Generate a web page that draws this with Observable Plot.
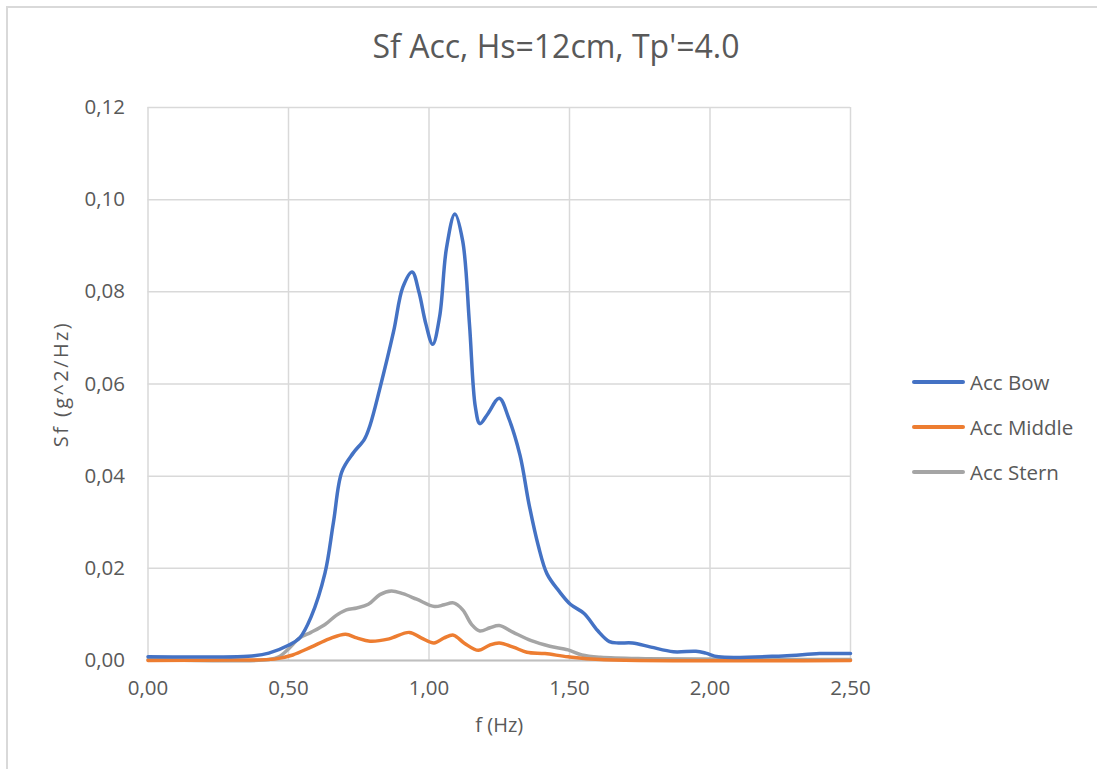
<!DOCTYPE html>
<html>
<head>
<meta charset="utf-8">
<script src="https://cdn.jsdelivr.net/npm/d3@7"></script>
<script src="https://cdn.jsdelivr.net/npm/@observablehq/plot@0.6"></script>
<style>
  html, body { margin: 0; padding: 0; background: #fff; overflow: hidden; }
  #chart { position: relative; width: 1097px; height: 769px; overflow: hidden; font-family: "Open Sans", sans-serif; color: #595959; }
  #frame { position: absolute; left: 6px; top: 6px; width: 1300px; height: 1000px; border-left: 2px solid #d9d9d9; border-top: 2px solid #d9d9d9; pointer-events: none; }
  #title { position: absolute; left: 0; width: 1112px; top: 26px; text-align: center; font-size: 32px; line-height: 40px; }
  #legend { position: absolute; left: 912px; top: 367px; font-size: 20.5px; }
  #legend .item { display: flex; align-items: center; height: 30px; margin: 0 0 15px 0; }
  .swatch { width: 53px; height: 3.5px; margin-right: 5px; border-radius: 2px; }
</style>
</head>
<body>
<div id="chart">
  <div id="frame"></div>
  <div id="title">Sf Acc, Hs=12cm, Tp'=4.0</div>
  <div id="legend"></div>
</div>
<script>
// Spectral density of acceleration, three sensors along the hull
const seriesNames = ["Acc Bow", "Acc Middle", "Acc Stern"];
const seriesColors = ["#4472C4", "#ED7D31", "#A5A5A5"];

const bowF = [0, 0.37, 0.43, 0.5, 0.54, 0.58, 0.63, 0.66, 0.69, 0.73, 0.77, 0.79, 0.825, 0.874, 0.907, 0.94, 0.964, 0.989, 1.013, 1.038, 1.062, 1.092, 1.12, 1.144, 1.165, 1.181, 1.209, 1.25, 1.283, 1.324, 1.356, 1.389, 1.42, 1.462, 1.503, 1.552, 1.6, 1.642, 1.675, 1.724, 1.79, 1.87, 1.95, 1.985, 2.03, 2.26, 2.39, 2.5];
const bowS = [0.0008, 0.001, 0.0016, 0.0033, 0.0049, 0.0094, 0.019, 0.030, 0.041, 0.045, 0.048, 0.051, 0.059, 0.0714, 0.081, 0.0843, 0.080, 0.073, 0.0686, 0.0747, 0.0894, 0.0969, 0.091, 0.073, 0.055, 0.0514, 0.0535, 0.0569, 0.0527, 0.0445, 0.0339, 0.0249, 0.0188, 0.0151, 0.0122, 0.0102, 0.0065, 0.0041, 0.0038, 0.0038, 0.0029, 0.0019, 0.002, 0.0016, 0.0008, 0.001, 0.0015, 0.0015];

const middleF = [0, 0.3, 0.45, 0.515, 0.58, 0.645, 0.703, 0.743, 0.79, 0.858, 0.93, 0.972, 1.018, 1.054, 1.087, 1.127, 1.176, 1.214, 1.25, 1.3, 1.348, 1.413, 1.495, 1.61, 2.5];
const middleS = [0, 0.0001, 0.0003, 0.0012, 0.0029, 0.0047, 0.0057, 0.0049, 0.0042, 0.0047, 0.0061, 0.0049, 0.0038, 0.0049, 0.0055, 0.0037, 0.0022, 0.0033, 0.0038, 0.0029, 0.0018, 0.0015, 0.0008, 0.0002, 0];

const sternF = [0, 0.43, 0.466, 0.5, 0.54, 0.58, 0.63, 0.67, 0.706, 0.743, 0.784, 0.825, 0.866, 0.907, 0.956, 1.02, 1.054, 1.087, 1.12, 1.152, 1.181, 1.217, 1.25, 1.3, 1.364, 1.43, 1.495, 1.544, 1.61, 1.77, 2.5];
const sternS = [0.0002, 0.0002, 0.0008, 0.0025, 0.0049, 0.0061, 0.0078, 0.0098, 0.011, 0.0114, 0.0122, 0.0143, 0.0151, 0.0145, 0.0133, 0.0117, 0.0121, 0.0125, 0.011, 0.0078, 0.0064, 0.0071, 0.0076, 0.0061, 0.0043, 0.0031, 0.0023, 0.0012, 0.0007, 0.0004, 0.0002];

const xTicks = [0, 0.5, 1.0, 1.5, 2.0, 2.5];
const yTicks = [0, 0.02, 0.04, 0.06, 0.08, 0.10, 0.12];

const toRows = (name, fs, ss) => fs.map((f, i) => ({series: name, f, s: ss[i]}));
const rows = [
  ...toRows("Acc Stern", sternF, sternS),
  ...toRows("Acc Middle", middleF, middleS),
  ...toRows("Acc Bow", bowF, bowS)
];

const comma = d => d.toFixed(2).replace(".", ",");
const yTitle = "Sf (g^2/Hz)";

const plot = Plot.plot({
  width: 1097,
  height: 769,
  marginLeft: 147.5,
  marginRight: 247,
  marginTop: 107,
  marginBottom: 109,
  style: {fontFamily: "Open Sans, sans-serif", fontSize: "20px", color: "#595959", background: "transparent"},
  x: {domain: [0, 2.5]},
  y: {domain: [0, 0.12]},
  color: {domain: seriesNames, range: seriesColors},
  marks: [
    Plot.gridX(xTicks, {stroke: "#d9d9d9", strokeOpacity: 1, strokeWidth: 1.5}),
    Plot.gridY(yTicks, {stroke: "#d9d9d9", strokeOpacity: 1, strokeWidth: 1.5}),
    Plot.ruleY([0], {stroke: "#bfbfbf", strokeWidth: 2}),
    Plot.axisX(xTicks, {tickSize: 0, tickPadding: 20, tickFormat: comma, fontSize: 20.5, fill: "#595959", label: null}),
    Plot.axisY(yTicks, {tickSize: 0, tickPadding: 23, tickFormat: comma, fontSize: 20.5, fill: "#595959", label: null}),
    Plot.line(rows, {x: "f", y: "s", z: "series", stroke: "series", strokeWidth: 3.5, curve: "catmull-rom"}),
    Plot.text(["f (Hz)"], {frameAnchor: "bottom", dy: 71, fontSize: 20, fill: "#595959"}),
    Plot.text([yTitle], {frameAnchor: "left", textAnchor: "middle", dx: -86, rotate: -90, fontSize: 20, fill: "#595959"})
  ]
});
// widen the rotated axis title's spacing
d3.select(plot).selectAll("text")
  .filter(function() { return this.textContent === yTitle; })
  .style("letter-spacing", "2.4px");

plot.style.position = "absolute";
plot.style.left = "0";
plot.style.top = "0";
document.getElementById("chart").insertBefore(plot, document.getElementById("title"));

const legend = document.getElementById("legend");
seriesNames.forEach((name, i) => {
  const item = document.createElement("div");
  item.className = "item";
  const sw = document.createElement("div");
  sw.className = "swatch";
  sw.style.background = seriesColors[i];
  const label = document.createElement("span");
  label.textContent = name;
  item.appendChild(sw);
  item.appendChild(label);
  legend.appendChild(item);
});
</script>
</body>
</html>
